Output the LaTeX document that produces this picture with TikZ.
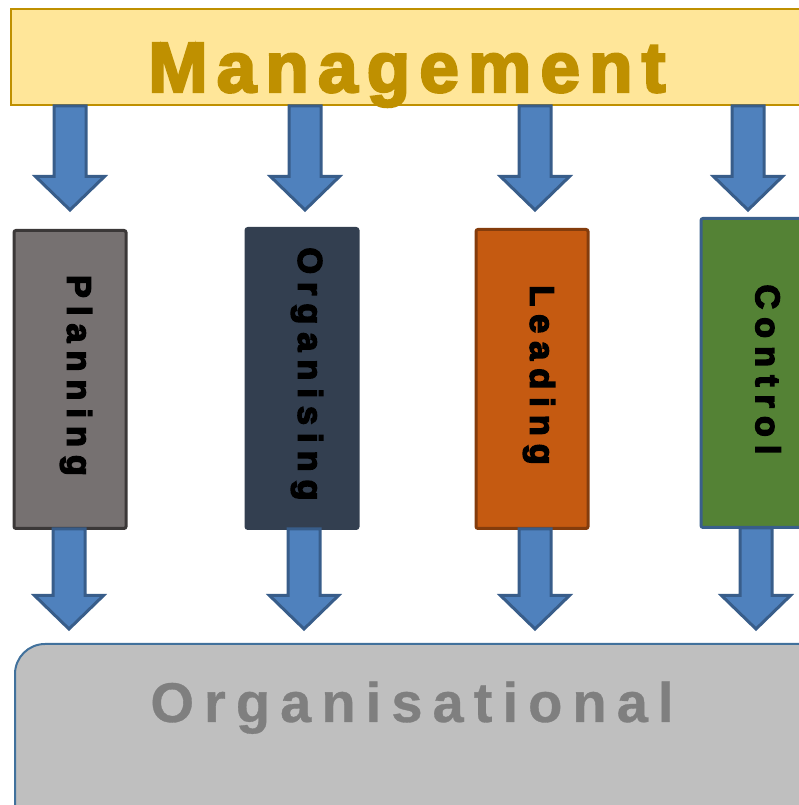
\documentclass[tikz,border=0pt]{standalone}
\usepackage{fontspec}
\setmainfont{Liberation Sans}
\newfontfamily\headfont[LetterSpace=13,FakeBold=3.5]{Liberation Sans Bold}
\newfontfamily\stepfont[LetterSpace=24,FakeBold=4.5]{Liberation Sans Bold}
\newfontfamily\basefont[LetterSpace=18,FakeBold=0.6]{Liberation Sans Bold}
\usetikzlibrary{calc}

\definecolor{mgmtfill}{HTML}{FFE699}
\definecolor{mgmtline}{HTML}{BF9000}
\definecolor{arrowfill}{HTML}{4F81BD}
\definecolor{arrowline}{HTML}{385D8A}
\definecolor{planfill}{HTML}{767171}
\definecolor{planline}{HTML}{3B3838}
\definecolor{orgfill}{HTML}{333F50}
\definecolor{leadfill}{HTML}{C55A11}
\definecolor{leadline}{HTML}{843C0C}
\definecolor{ctrlfill}{HTML}{548235}
\definecolor{ctrlline}{HTML}{3A5F8B}
\definecolor{basefill}{HTML}{BFBFBF}
\definecolor{baseedge}{HTML}{41719C}
\definecolor{basetext}{HTML}{7F7F7F}

\tikzset{
    stage/.style={draw, line width=3pt, rounded corners=2pt, minimum width=112pt, inner sep=0pt},
    steptext/.style={rotate=-90, inner sep=0pt, text=black, font=\stepfont\fontsize{34}{34}\selectfont},
    blockarrow/.style={draw=arrowline, fill=arrowfill, line width=3pt, line join=miter}
}

% block arrow: shaft starts level with #1, head tip sits at #2
\newcommand\flowarrow[2]{%
    \draw[blockarrow] (#1 -| #2) ++(-16,0) -- ++(32,0) -- ($(#2)+(16,33.5)$)
        -- ++(18.5,0) -- (#2) -- ++(-34.5,33.5) -- ++(18.5,0) -- cycle;}

\begin{document}
\begin{tikzpicture}[x=1pt, y=1pt]
    \clip (0,0) rectangle (799,805);

    % top and bottom bands
    \node[draw=mgmtline, fill=mgmtfill, line width=2pt, minimum width=818pt, minimum height=96pt, inner sep=0pt] (mgmt) at (420,748) {};
    \node[anchor=base, text=mgmtline, font=\headfont\fontsize{71}{71}\selectfont] (mgmttext) at (407,713) {Management};

    \node[draw=baseedge, fill=basefill, line width=2pt, rounded corners=30pt, minimum width=815pt, minimum height=196pt, inner sep=0pt] (base) at (422.5,63) {};
    \node[anchor=base, text=basetext, font=\basefont\fontsize{56}{56}\selectfont] (basetext) at (412,83) {Organisational};

    % the four functions
    \node[stage, fill=planfill, draw=planline, minimum height=298pt] (plan) at (70,425.5) {};
    \node[stage, fill=orgfill, draw=orgfill, minimum height=300pt] (org) at (302,426.5) {};
    \node[stage, fill=leadfill, draw=leadline, minimum height=299pt] (lead) at (532,426) {};
    \node[stage, fill=ctrlfill, draw=ctrlline, minimum height=309pt] (ctrl) at (757,432) {};

    \node[steptext] (plantext) at ([xshift=6pt,yshift=4pt]plan.center) {Planning};
    \node[steptext] (orgtext) at ([xshift=5pt,yshift=4.5pt]org.center) {Organising};
    \node[steptext] (leadtext) at ([xshift=7pt,yshift=4pt]lead.center) {Leading};
    \node[steptext] (ctrltext) at ([xshift=11pt,yshift=3.5pt]ctrl.center) {Control};

    % arrows in and out of each function
    \coordinate (toptips) at ([yshift=-104pt]mgmt.south);
    \coordinate (basetips) at ([yshift=14pt]base.north);
    \foreach \n/\dt/\db in {plan/0/-1, org/3/2, lead/3/3, ctrl/-9/-1}{
        \coordinate (intip) at ([xshift=\dt pt]toptips -| \n.north);
        \coordinate (outtip) at ([xshift=\db pt]basetips -| \n.south);
        \coordinate (outroot) at ([yshift=1pt]\n.south);
        \flowarrow{mgmt.south}{intip}
        \flowarrow{outroot}{outtip}
    }
\end{tikzpicture}
\end{document}
